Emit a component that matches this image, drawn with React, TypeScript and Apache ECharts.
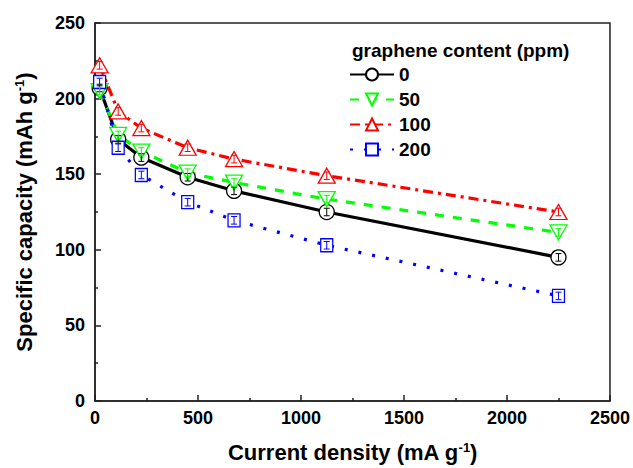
import React, { useEffect, useRef } from "react";
import * as echarts from "echarts";

const currentDensity = [22.5, 112.5, 225, 450, 675, 1125, 2250];
const cap0 = [207, 173, 161, 148, 139, 125, 95];
const cap50 = [205, 176, 165, 151, 144.5, 133.5, 111.5];
const cap100 = [222, 191.5, 180.5, 167.5, 160, 149, 125];
const cap200 = [211, 167.5, 149.5, 131.5, 119.5, 103, 69.5];
const errBar = [2.5, 2.5, 2.5, 2.5, 2.5, 2.5, 2.5];
const seriesNames = ["0", "50", "100", "200"];
const xTicks = [0, 500, 1000, 1500, 2000, 2500];
const yTicks = [0, 50, 100, 150, 200, 250];

const FONT = "'Liberation Sans', Arial, sans-serif";

export default function App() {
  const ref = useRef<HTMLDivElement>(null);
  useEffect(() => {
    if (!ref.current) return;
    const chart = echarts.init(ref.current, null, { renderer: "svg" });
    const pairs = (vals: number[]) => currentDensity.map((x, i) => [x, vals[i]]);
    const mk = (
      name: string,
      vals: number[],
      color: string,
      symbol: string,
      size: number | number[],
      lineType: any,
      rotate = 0
    ) => ({
      name,
      type: "line",
      data: pairs(vals),
      symbol,
      symbolSize: size,
      symbolRotate: rotate,
      showAllSymbol: true,
      lineStyle: { color, width: 3.2, type: lineType },
      itemStyle: { color: "#ffffff", borderColor: color, borderWidth: 1.3 },
      z: 3,
    });
    const errSeries = (vals: number[], color: string) => ({
      type: "custom",
      data: currentDensity.map((x, i) => [x, vals[i], errBar[i]]),
      z: 5,
      silent: true,
      renderItem: (params: any, api: any) => {
        const x = api.value(0);
        const y = api.value(1);
        const e = api.value(2);
        const top = api.coord([x, y + e]);
        const bot = api.coord([x, y - e]);
        const style = { stroke: color, lineWidth: 1 };
        return {
          type: "group",
          children: [
            { type: "line", shape: { x1: top[0], y1: top[1], x2: bot[0], y2: bot[1] }, style },
            { type: "line", shape: { x1: top[0] - 3, y1: top[1], x2: top[0] + 3, y2: top[1] }, style },
            { type: "line", shape: { x1: bot[0] - 3, y1: bot[1], x2: bot[0] + 3, y2: bot[1] }, style },
          ],
        };
      },
    });
    const axisLabel = { color: "#000", fontSize: 18, fontWeight: "bold", fontFamily: FONT, formatter: (v: number) => String(v) };
    const nameStyle = {
      fontSize: 22,
      fontWeight: "bold",
      color: "#000",
      fontFamily: FONT,
      rich: {
        sup: { fontSize: 13, fontWeight: "bold", verticalAlign: "top", fontFamily: FONT, color: "#000" },
        n: { fontSize: 22, fontWeight: "bold", fontFamily: FONT, color: "#000" },
      },
    };
    chart.setOption({
      animation: false,
      backgroundColor: "#fff",
      grid: {
        left: 95,
        right: 21,
        top: 23,
        bottom: 65,
        show: true,
        borderColor: "#222",
        borderWidth: 1.5,
      },
      title: {
        text: "graphene content (ppm)",
        left: 347,
        top: 36,
        textStyle: { fontSize: 19, fontWeight: "bold", color: "#000", fontFamily: FONT },
      },
      legend: {
        data: seriesNames,
        orient: "vertical",
        left: 344,
        top: 60,
        itemWidth: 44,
        itemHeight: 15,
        itemGap: 6,
        textStyle: { fontSize: 19, fontWeight: "bold", color: "#000", fontFamily: FONT },
      },
      xAxis: {
        type: "value",
        min: xTicks[0],
        max: xTicks[xTicks.length - 1],
        interval: 500,
        name: "Current density (mA g{sup|-1}{n|)}",
        nameLocation: "middle",
        nameGap: 40,
        nameTextStyle: nameStyle,
        axisLine: { lineStyle: { color: "#222", width: 1.5 } },
        axisTick: { inside: true, length: 6, lineStyle: { color: "#222", width: 1.5 } },
        minorTick: { show: true, splitNumber: 2, length: 3, lineStyle: { color: "#222", width: 1.5 } },
        splitLine: { show: false },
        axisLabel: { ...axisLabel, margin: 8 },
      },
      yAxis: {
        type: "value",
        min: yTicks[0],
        max: yTicks[yTicks.length - 1],
        interval: 50,
        name: "Specific capacity (mAh g{sup|-1}{n|)}",
        nameLocation: "middle",
        nameGap: 60,
        nameTextStyle: nameStyle,
        axisLine: { show: true, lineStyle: { color: "#222", width: 1.5 } },
        axisTick: { show: true, inside: true, length: 6, lineStyle: { color: "#222", width: 1.5 } },
        minorTick: { show: true, splitNumber: 2, length: 3, lineStyle: { color: "#222", width: 1.5 } },
        splitLine: { show: false },
        axisLabel: { ...axisLabel, margin: 10 },
      },
      series: [
        mk(seriesNames[0], cap0, "#000000", "circle", 15, "solid"),
        mk(seriesNames[1], cap50, "#00ff00", "triangle", [17, 15], [9, 9], 180),
        mk(seriesNames[2], cap100, "#ff0000", "triangle", [17, 15], [10, 5, 3, 5]),
        mk(seriesNames[3], cap200, "#0000ff", "rect", [12, 13], [3, 11]),
        errSeries(cap0, "#000000"),
        errSeries(cap50, "#00ff00"),
        errSeries(cap100, "#ff0000"),
        errSeries(cap200, "#0000ff"),
      ],
    });
    return () => chart.dispose();
  }, []);
  return <div ref={ref} style={{ width: 633, height: 468, position: "absolute", left: 0, top: 0 }} />;
}
